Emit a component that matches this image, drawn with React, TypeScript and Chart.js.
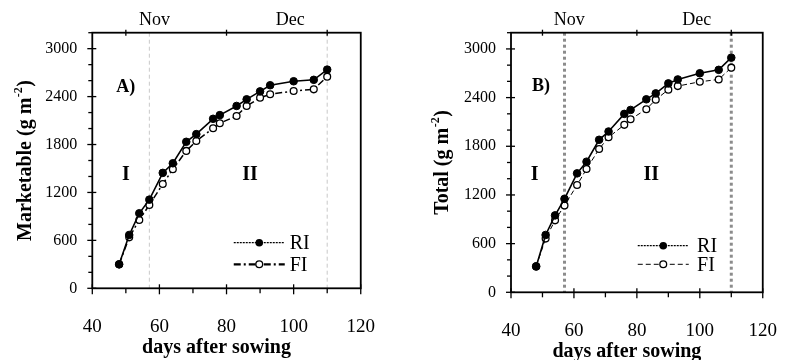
import React, { useEffect, useRef } from 'react';
import { Chart, registerables } from 'chart.js';

Chart.register(...registerables);

// ---------- data ----------
const days = [48, 51, 54, 57, 61, 64, 68, 71, 76, 78, 83, 86, 90, 93, 100, 106, 110];
const marketableRI = [300, 668, 939, 1110, 1445, 1565, 1834, 1930, 2122, 2168, 2283, 2366, 2465, 2542, 2592, 2610, 2738];
const marketableFI = [300, 638, 855, 1043, 1306, 1490, 1720, 1844, 2003, 2066, 2157, 2282, 2386, 2429, 2470, 2491, 2650];
const totalRI = [319, 707, 948, 1152, 1466, 1610, 1880, 1982, 2199, 2248, 2379, 2452, 2575, 2624, 2700, 2742, 2892];
const totalFI = [319, 662, 887, 1071, 1322, 1520, 1766, 1911, 2064, 2133, 2256, 2375, 2498, 2542, 2595, 2624, 2769];

const seriesNames = ['RI', 'FI'];
const monthLabels = ['Nov', 'Dec'];
const monthLabelDays = [58.5, 99];
const monthTickDays = [50, 80, 110];
const stageBoundaryDays = [57, 110];
const xTickLabels = [40, 60, 80, 100, 120];
const yTickLabels = [0, 600, 1200, 1800, 2400, 3000];

const FONT = "'Liberation Serif', 'Times New Roman', serif";

type Panel = {
  id: string;
  yTitle: string;
  ri: number[];
  fi: number[];
  letter: string;
  letterAt: [number, number];
  stage1At: [number, number];
  stage2At: [number, number];
  yAxisWidth: number;
  bottomHeight: number;
  rightPad: number;
  vline: { color: string; width: number; dash: number[] };
  fiDash: number[];
  fiWidth: number;
  fiLegendDash: number[];
  fiLegendWidth: number;
  legendLineFromRight: number;
  legendTextFromRight: number;
  legendRowsFromBottom: [number, number];
  yTitleOffset: number;
};

const panels: Panel[] = [
  {
    id: 'A',
    yTitle: 'Marketable',
    ri: marketableRI,
    fi: marketableFI,
    letter: 'A)',
    letterAt: [50, 2520],
    stage1At: [50, 1420],
    stage2At: [87, 1420],
    yAxisWidth: 92.3,
    bottomHeight: 71.7,
    rightPad: 37,
    vline: { color: '#c9c9c9', width: 1, dash: [4, 3] },
    fiDash: [7, 3, 2, 3],
    fiWidth: 1.5,
    fiLegendDash: [7, 3, 2, 3],
    fiLegendWidth: 2.2,
    legendLineFromRight: 127,
    legendTextFromRight: 71,
    legendRowsFromBottom: [45.6, 24],
    yTitleOffset: 68,
  },
  {
    id: 'B',
    yTitle: 'Total',
    ri: totalRI,
    fi: totalFI,
    letter: 'B)',
    letterAt: [49.5, 2540],
    stage1At: [47.5, 1450],
    stage2At: [84.6, 1450],
    yAxisWidth: 109,
    bottomHeight: 67.7,
    rightPad: 18.3,
    vline: { color: '#8c8c8c', width: 3, dash: [3, 3] },
    fiDash: [5, 3],
    fiWidth: 1,
    fiLegendDash: [5, 3],
    fiLegendWidth: 1,
    legendLineFromRight: 125,
    legendTextFromRight: 65.7,
    legendRowsFromBottom: [46.6, 28],
    yTitleOffset: 70,
  },
];

function makeDecor(p: Panel) {
  return {
    id: 'decor' + p.id,
    beforeDatasetsDraw(chart: any) {
      const { ctx, chartArea: a, scales } = chart;
      const x = scales.x;
      ctx.save();
      ctx.strokeStyle = p.vline.color;
      ctx.lineWidth = p.vline.width;
      ctx.setLineDash(p.vline.dash);
      stageBoundaryDays.forEach((d) => {
        const px = x.getPixelForValue(d);
        ctx.beginPath();
        ctx.moveTo(px, a.top);
        ctx.lineTo(px, a.bottom);
        ctx.stroke();
      });
      ctx.restore();
    },
    afterDraw(chart: any) {
      const { ctx, chartArea: a, scales } = chart;
      const x = scales.x;
      const y = scales.y;
      ctx.save();
      // frame
      ctx.strokeStyle = '#000';
      ctx.lineWidth = 1.8;
      ctx.setLineDash([]);
      ctx.strokeRect(a.left, a.top, a.right - a.left, a.bottom - a.top);
      // ticks
      ctx.lineWidth = 1.3;
      const seg = (x1: number, y1: number, x2: number, y2: number) => {
        ctx.beginPath();
        ctx.moveTo(x1, y1);
        ctx.lineTo(x2, y2);
        ctx.stroke();
      };
      x.ticks.forEach((t: any) => {
        const px = x.getPixelForValue(t.value);
        const major = xTickLabels.includes(t.value);
        if (major) seg(px, a.bottom - 4, px, a.bottom + 6);
        else seg(px, a.bottom, px, a.bottom + 5);
      });
      y.ticks.forEach((t: any) => {
        const py = y.getPixelForValue(t.value);
        const major = yTickLabels.includes(t.value);
        if (major) seg(a.left - 5, py, a.left + 4, py);
        else seg(a.left - 4, py, a.left, py);
      });
      monthTickDays.forEach((d) => {
        const px = x.getPixelForValue(d);
        seg(px, a.top - 3, px, a.top + 3);
      });

      // annotations
      ctx.fillStyle = '#000';
      ctx.textBaseline = 'middle';
      ctx.textAlign = 'center';
      ctx.font = `bold 18px ${FONT}`;
      ctx.fillText(p.letter, x.getPixelForValue(p.letterAt[0]), y.getPixelForValue(p.letterAt[1]));
      ctx.font = `bold 20px ${FONT}`;
      ctx.fillText('I', x.getPixelForValue(p.stage1At[0]), y.getPixelForValue(p.stage1At[1]));
      ctx.fillText('II', x.getPixelForValue(p.stage2At[0]), y.getPixelForValue(p.stage2At[1]));

      // legend
      const lx1 = a.right - p.legendLineFromRight;
      const lx2 = lx1 + 51;
      const mx = (lx1 + lx2) / 2;
      const tx = a.right - p.legendTextFromRight;
      const ry = a.bottom - p.legendRowsFromBottom[0];
      const fy = a.bottom - p.legendRowsFromBottom[1];
      ctx.strokeStyle = '#000';
      ctx.lineWidth = 1.2;
      ctx.setLineDash([2, 1]);
      seg(lx1, ry, lx2, ry);
      ctx.lineWidth = p.fiLegendWidth;
      ctx.setLineDash(p.fiLegendDash);
      seg(lx1, fy, lx2, fy);
      ctx.setLineDash([]);
      ctx.beginPath();
      ctx.arc(mx, ry, 3.8, 0, Math.PI * 2);
      ctx.fillStyle = '#000';
      ctx.fill();
      ctx.beginPath();
      ctx.arc(mx, fy, 3.4, 0, Math.PI * 2);
      ctx.fillStyle = '#fff';
      ctx.fill();
      ctx.lineWidth = 1.3;
      ctx.stroke();
      ctx.fillStyle = '#000';
      ctx.textAlign = 'left';
      ctx.font = `20px ${FONT}`;
      ctx.fillText(seriesNames[0], tx, ry + 1);
      ctx.fillText(seriesNames[1], tx, fy + 1);

      // x title
      ctx.textAlign = 'center';
      ctx.font = `bold 20px ${FONT}`;
      ctx.fillText('days after sowing', (a.left + a.right) / 2 - 10, a.bottom + 60);

      // y title with superscript
      ctx.translate(a.left - p.yTitleOffset, (a.top + a.bottom) / 2);
      ctx.rotate(-Math.PI / 2);
      const mainFont = `bold 20px ${FONT}`;
      const supFont = `bold 12px ${FONT}`;
      const part1 = p.yTitle + ' (g m';
      const sup = '-2';
      const part3 = ')';
      ctx.font = mainFont;
      const w1 = ctx.measureText(part1).width;
      const w3 = ctx.measureText(part3).width;
      ctx.font = supFont;
      const w2 = ctx.measureText(sup).width;
      const total = w1 + w2 + w3 + 1;
      let cx = -total / 2;
      ctx.textAlign = 'left';
      ctx.textBaseline = 'alphabetic';
      ctx.font = mainFont;
      ctx.fillText(part1, cx, 7);
      cx += w1 + 0.5;
      ctx.font = supFont;
      ctx.fillText(sup, cx, -2);
      cx += w2 + 0.5;
      ctx.font = mainFont;
      ctx.fillText(part3, cx, 7);
      ctx.restore();
    },
  };
}

function PanelChart({ p }: { p: Panel }) {
  const ref = useRef<HTMLCanvasElement | null>(null);
  useEffect(() => {
    if (!ref.current) return;
    const chart = new Chart(ref.current, {
      type: 'line',
      data: {
        datasets: [
          {
            label: seriesNames[0],
            data: days.map((d, i) => ({ x: d, y: p.ri[i] })),
            borderColor: '#000',
            borderWidth: 1.6,
            pointRadius: 3.8,
            pointBackgroundColor: '#000',
            pointBorderColor: '#000',
            pointBorderWidth: 1,
            tension: 0,
          },
          {
            label: seriesNames[1],
            data: days.map((d, i) => ({ x: d, y: p.fi[i] })),
            borderColor: '#000',
            borderWidth: p.fiWidth,
            borderDash: p.fiDash,
            pointRadius: 3.4,
            pointBackgroundColor: '#fff',
            pointBorderColor: '#000',
            pointBorderWidth: 1.3,
            tension: 0,
          },
        ],
      },
      options: {
        responsive: false,
        animation: false,
        devicePixelRatio: 1,
        layout: { padding: { left: 0, right: p.rightPad, top: 0, bottom: 0 } },
        plugins: { legend: { display: false }, tooltip: { enabled: false } },
        scales: {
          x: {
            type: 'linear',
            position: 'bottom',
            min: 40,
            max: 120,
            grid: { display: false, drawTicks: false },
            border: { display: false },
            ticks: {
              stepSize: 10,
              autoSkip: false,
              maxRotation: 0,
              padding: 27,
              color: '#000',
              font: { family: FONT, size: 19 },
              callback: (v: any) => (xTickLabels.includes(Number(v)) ? String(v) : ''),
            },
            afterFit: (s: any) => {
              s.height = p.bottomHeight;
            },
          },
          x2: {
            type: 'linear',
            position: 'top',
            min: 40,
            max: 120,
            grid: { display: false, drawTicks: false },
            border: { display: false },
            afterBuildTicks: (s: any) => {
              s.ticks = monthLabelDays.map((d) => ({ value: d }));
            },
            ticks: {
              autoSkip: false,
              maxRotation: 0,
              padding: 2,
              color: '#000',
              font: { family: FONT, size: 18 },
              callback: (v: any) => monthLabels[monthLabelDays.indexOf(Number(v))] ?? '',
            },
            afterFit: (s: any) => {
              s.height = 32.7;
            },
          },
          y: {
            type: 'linear',
            min: 0,
            max: 3200,
            grid: { display: false, drawTicks: false },
            border: { display: false },
            ticks: {
              stepSize: 200,
              autoSkip: false,
              padding: 15,
              color: '#000',
              font: { family: FONT, size: 16 },
              callback: (v: any) => (yTickLabels.includes(Number(v)) ? String(v) : ''),
            },
            afterFit: (s: any) => {
              s.width = p.yAxisWidth;
            },
          },
        },
      },
      plugins: [makeDecor(p)],
    } as any);
    return () => chart.destroy();
  }, [p]);
  return <canvas ref={ref} width={402} height={360} style={{ display: 'block', width: 402, height: 360 }} />;
}

export default function App() {
  return (
    <div style={{ position: 'fixed', left: 0, top: 0, width: 804, height: 360, display: 'flex', background: '#fff' }}>
      {panels.map((p) => (
        <PanelChart key={p.id} p={p} />
      ))}
    </div>
  );
}
